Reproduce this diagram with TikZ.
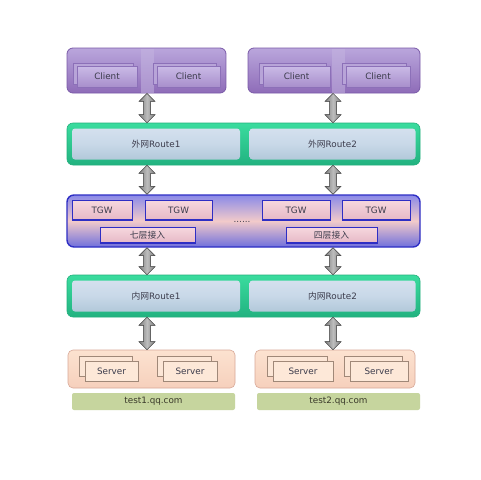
\documentclass[tikz,border=0pt]{standalone}
\usepackage{fontspec}
\setmainfont{DejaVu Sans}
\newfontfamily\cjk{Noto Sans CJK SC}
\usetikzlibrary{calc}
\definecolor{txt}{HTML}{3C3C4C}
\definecolor{purpB}{HTML}{7A5AA8}
\definecolor{purpT}{HTML}{BAA6DC}
\definecolor{purpD}{HTML}{8E6CB8}
\definecolor{purpS}{HTML}{C4B4E0}
\definecolor{cbrd}{HTML}{8C70B8}
\definecolor{cbk}{HTML}{B8A4D8}
\definecolor{cboxT}{HTML}{CABAE6}
\definecolor{cboxB}{HTML}{A88FCC}
\definecolor{grnB}{HTML}{22B07C}
\definecolor{grnT}{HTML}{3ADC9E}
\definecolor{grnD}{HTML}{22B280}
\definecolor{panT}{HTML}{D4E0EE}
\definecolor{panM}{HTML}{C8D8E8}
\definecolor{panB}{HTML}{B2C8DA}
\definecolor{tgwblue}{HTML}{2E2EC4}
\definecolor{tbT}{HTML}{8A8AE8}
\definecolor{tbM}{HTML}{F2CACA}
\definecolor{tbB}{HTML}{7070DC}
\definecolor{tboxT}{HTML}{F6D8DE}
\definecolor{tboxB}{HTML}{E6B8C6}
\definecolor{sgB}{HTML}{D8A898}
\definecolor{sgT}{HTML}{FCE2D0}
\definecolor{sgD}{HTML}{F6D0BC}
\definecolor{sbrd}{HTML}{A08878}
\definecolor{sbk}{HTML}{FCE6D6}
\definecolor{sfr}{HTML}{FDE8D8}
\definecolor{tnF}{HTML}{C6D59E}
\definecolor{tnT}{HTML}{3A3A2A}
\definecolor{arB}{HTML}{505050}
\definecolor{arS}{HTML}{7E7E7E}
\definecolor{arM}{HTML}{BDBDBD}
\newcommand\dblarr[2]{%
  \filldraw[arrowsty]
    (#1) -- ($(#1)+(-8,8)$) -- ($(#1)+(-3.5,8)$) -- ($(#2)+(-3.5,-8)$) -- ($(#2)+(-8,-8)$) --
    (#2) -- ($(#2)+(8,-8)$) -- ($(#2)+(3.5,-8)$) -- ($(#1)+(3.5,8)$) -- ($(#1)+(8,8)$) -- cycle;}
\begin{document}
\begin{tikzpicture}[x=1pt,y=-1pt,
  every node/.style={font=\fontsize{8.8}{10}\selectfont, text=txt, inner sep=0pt},
  cgroup/.style={rounded corners=6pt, draw=purpB, line width=0.8pt, top color=purpT, bottom color=purpD},
  cstripe/.style={fill=purpS, opacity=0.55},
  cback/.style={draw=cbrd, line width=0.5pt, fill=cbk},
  cbox/.style={draw=cbrd, line width=0.5pt, top color=cboxT, bottom color=cboxB},
  rband/.style={rounded corners=6pt, draw=grnB, line width=0.6pt, top color=grnT, bottom color=grnD},
  rpanel/.style={rounded corners=3pt, top color=panT, bottom color=panB, middle color=panM},
  tband/.style={rounded corners=7pt, draw=tgwblue, line width=1.4pt, top color=tbT, bottom color=tbB, middle color=tbM},
  tbox/.style={draw=tgwblue, line width=0.5pt, top color=tboxT, bottom color=tboxB},
  sgroup/.style={rounded corners=5pt, draw=sgB, line width=0.6pt, top color=sgT, bottom color=sgD},
  sback/.style={draw=sbrd, line width=0.5pt, fill=sbk},
  sbox/.style={draw=sbrd, line width=0.5pt, fill=sfr},
  tname/.style={rounded corners=2pt, fill=tnF, text=tnT},
  arrowsty/.style={draw=arB, line width=0.5pt, left color=arS, right color=arS, middle color=arM},
]
\useasboundingbox[fill=white] (0,0) rectangle (481,479);

% ---------- client groups
\node[cgroup, minimum width=159pt, minimum height=45pt] (cg1) at (146.5,70.5) {};
\node[cgroup, minimum width=172pt, minimum height=45pt] (cg2) at (334,70.5) {};
\node[cstripe, minimum width=13pt, minimum height=44pt] (cs1) at (147,70.5) {};
\node[cstripe, minimum width=13pt, minimum height=44pt] (cs2) at (338,70.5) {};
\foreach \n/\x/\w in {c1/107/60, c2/188.5/63, c3/296.5/67, c4/378/64}{
  \node[cback, minimum width=\w pt, minimum height=21pt] (\n b) at (\x-4,73.5) {};
  \node[cbox, minimum width=\w pt, minimum height=21pt] (\n) at (\x,76.5) {Client};
}

% ---------- route band 1
\node[rband, minimum width=353pt, minimum height=42pt] (r1) at (243.5,144) {};
\node[rpanel, minimum width=168pt, minimum height=31pt] (r1l) at (156,144) {{\cjk 外网}Route1};
\node[rpanel, minimum width=166pt, minimum height=31pt] (r1r) at (332.5,144) {{\cjk 外网}Route2};

% ---------- TGW band
\node[tband, minimum width=353pt, minimum height=52pt] (tb) at (243.5,221) {};
\foreach \n/\x/\w in {t1/102/60, t2/178.5/67, t3/296/68, t4/376/68}{
  \node[tbox, minimum width=\w pt, minimum height=20pt] (\n) at (\x,210) {TGW};
  \draw[tgwblue, line width=1.6pt] (\n.south west) -- (\n.south east);
}
\node[tbox, minimum width=95pt, minimum height=16pt] (l7) at (147.5,235) {\cjk 七层接入};
\draw[tgwblue, line width=1.6pt] (l7.south west) -- (l7.south east);
\node[tbox, minimum width=91pt, minimum height=16pt] (l4) at (331.5,235) {\cjk 四层接入};
\draw[tgwblue, line width=1.6pt] (l4.south west) -- (l4.south east);
\node (dots) at (242,222) {......};

% ---------- route band 2
\node[rband, minimum width=353pt, minimum height=42pt] (r2) at (243.5,296) {};
\node[rpanel, minimum width=168pt, minimum height=31pt] (r2l) at (156,296) {{\cjk 内网}Route1};
\node[rpanel, minimum width=166pt, minimum height=31pt] (r2r) at (332.5,296) {{\cjk 内网}Route2};

% ---------- server groups
\node[sgroup, minimum width=167pt, minimum height=38pt] (sg1) at (151.5,369) {};
\node[sgroup, minimum width=160pt, minimum height=38pt] (sg2) at (335,369) {};
\foreach \n/\x/\w in {s1/111.5/53, s2/190/54, s3/303/60, s4/379/58}{
  \node[sback, minimum width=\w pt, minimum height=20pt] (\n b) at (\x-6,366) {};
  \node[sbox, minimum width=\w pt, minimum height=20pt] (\n) at (\x,371) {Server};
}

% ---------- domain names
\node[tname, minimum width=163pt, minimum height=17pt] (d1) at (153.5,401.5) {test1.qq.com};
\node[tname, minimum width=163pt, minimum height=17pt] (d2) at (338.5,401.5) {test2.qq.com};

% ---------- arrows
\coordinate (L) at (147,0);
\coordinate (R) at (333,0);
\dblarr{L |- cg1.south}{L |- r1.north}
\dblarr{R |- cg2.south}{R |- r1.north}
\dblarr{L |- r1.south}{L |- tb.north}
\dblarr{R |- r1.south}{R |- tb.north}
\dblarr{L |- tb.south}{L |- r2.north}
\dblarr{R |- tb.south}{R |- r2.north}
\dblarr{L |- r2.south}{L |- sg1.north}
\dblarr{R |- r2.south}{R |- sg2.north}
\end{tikzpicture}
\end{document}
